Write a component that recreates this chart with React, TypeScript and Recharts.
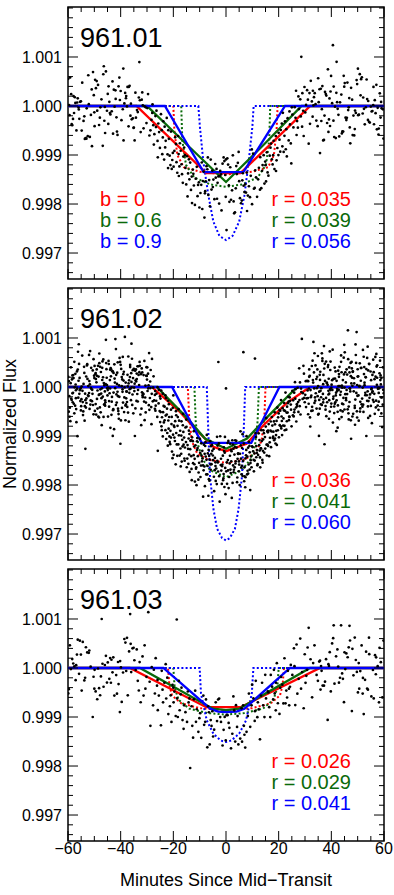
import React from "react";
import { ComposedChart, Line, ReferenceArea, Scatter, XAxis, YAxis } from "recharts";

// x in minutes since mid-transit, y in ppm relative to flux 1.000
const xMajor = [-60, -40, -20, 0, 20, 40, 60];
const xMinor = [
  -60, -55, -50, -45, -40, -35, -30, -25, -20, -15, -10, -5, 0, 5, 10, 15, 20, 25, 30, 35, 40, 45, 50, 55, 60,
];
const yMajor = [-3000, -2000, -1000, 0, 1000];
const yMinor = [
  -3400, -3200, -3000, -2800, -2600, -2400, -2200, -2000, -1800, -1600, -1400, -1200, -1000, -800, -600, -400, -200,
  0, 200, 400, 600, 800, 1000, 1200, 1400, 1600, 1800, 2000,
];
const yDomain = [-3530, 2020];

const bLabels = ["b = 0", "b = 0.6", "b = 0.9"];
const rLabels1 = ["r = 0.035", "r = 0.039", "r = 0.056"];
const rLabels2 = ["r = 0.036", "r = 0.041", "r = 0.060"];
const rLabels3 = ["r = 0.026", "r = 0.029", "r = 0.041"];

// model curves, solid
const red1 = [[-60, 0], [-34, 0], [-7.5, -1370], [5.5, -1370], [32, 0], [60, 0]];
const green1 = [[-60, 0], [-30, 0], [-15, -780], [0, -1550], [14.5, -780], [28.7, 0], [60, 0]];
const blue1 = [[-60, 0], [-23.2, 0], [-8.5, -1350], [6.6, -1350], [22.4, 0], [60, 0]];
const red2 = [[-60, 0], [-28.2, 0], [-17.5, -510], [-11.2, -880], [-4.8, -1220], [0, -1310], [7.8, -1160], [14.2, -780], [23, -330], [31.9, 0], [60, 0]];
const green2 = [[-60, 0], [-26.3, 0], [-15, -620], [-8, -1050], [0, -1260], [8, -1050], [15, -650], [27, 0], [60, 0]];
const blue2 = [[-60, 0], [-20.5, 0], [-9.2, -1140], [9.6, -1140], [20.3, 0], [60, 0]];
const red3 = [[-60, 0], [-36.5, 0], [-7.5, -800], [5.5, -800], [35.7, 0], [60, 0]];
const green3 = [[-60, 0], [-32.7, 0], [-5, -830], [0, -860], [5, -830], [31.9, 0], [60, 0]];
const blue3 = [[-60, 0], [-23.8, 0], [-6, -830], [-3, -890], [0, -900], [4, -890], [7, -830], [24.3, 0], [60, 0]];

// model curves, dotted
const redDot1 = [[-60, 0], [-20, 0], [-19.6, -500], [-18.5, -1000], [-16, -1250], [-10, -1340], [0, -1400], [10, -1340], [16, -1250], [18.2, -1000], [19.2, -500], [19.6, 0], [60, 0]];
const greenDot1 = [[-60, 0], [-17, 0], [-16.6, -700], [-15.2, -1200], [-12, -1460], [-6, -1600], [0, -1650], [6, -1600], [12, -1460], [15.2, -1200], [16.4, -700], [16.8, 0], [60, 0]];
const blueDot1 = [[-60, 0], [-10.5, 0], [-9.9, -430], [-8.6, -1140], [-6.7, -1820], [-4.8, -2360], [-2.5, -2650], [0, -2735], [2.5, -2650], [5, -2360], [7, -1820], [8.6, -1140], [10, -430], [10.5, 0], [60, 0]];
const redDot2 = [[-60, 0], [-14.5, 0], [-14, -600], [-13, -1100], [-11, -1350], [-7, -1480], [0, -1550], [7, -1480], [11, -1350], [13.5, -1100], [14.6, -600], [15, 0], [60, 0]];
const greenDot2 = [[-60, 0], [-12, 0], [-11.5, -700], [-10.5, -1200], [-9, -1460], [-6, -1700], [0, -1840], [6, -1700], [9.5, -1460], [11, -1200], [12, -700], [12.5, 0], [60, 0]];
const blueDot2 = [[-60, 0], [-7.3, 0], [-6.8, -780], [-6.1, -1800], [-4.8, -2480], [-3.4, -2890], [-1.5, -3080], [0, -3130], [1.5, -3080], [3.4, -2890], [4.8, -2480], [6.1, -1800], [6.8, -780], [7.3, 0], [60, 0]];
const redDot3 = [[-60, 0], [-22, 0], [-21.5, -350], [-20.5, -560], [-17, -720], [-10, -820], [0, -860], [10, -820], [17, -720], [20.5, -560], [21.5, -350], [22, 0], [60, 0]];
const greenDot3 = [[-60, 0], [-20, 0], [-19.5, -400], [-18, -650], [-14, -830], [-7, -920], [0, -950], [7, -920], [14, -830], [18, -650], [19.5, -400], [20, 0], [60, 0]];
const blueDot3 = [[-60, 0], [-10, 0], [-9.5, -520], [-7.3, -1070], [-4.8, -1340], [-2, -1480], [0, -1510], [2, -1480], [5, -1340], [7.6, -1070], [9.8, -520], [10.4, 0], [60, 0]];

// photometry, 961.01
const flux1 = [
  [-47.3,137],[-58.1,-263],[-36.6,412],[-52.9,-48],[-41.2,-591],[-55.4,85],[-31.8,277],[-44.7,-366],[-59.6,19],[-38.9,-702],[-49.1,508],[-33.5,-124],[-53.8,-211],[-42.6,333],[-57.2,63],[-35.1,-447],[-46.0,-18],[-50.5,692],[-39.7,-289],[-56.3,156],[-32.4,-533],[-45.2,-97],[-58.8,241],[-37.4,389],[-51.7,-631],[-43.9,-172],[-54.6,476],[-30.9,-6],[-48.2,-388],[-40.3,122],[-59.2,581],[-34.2,-239],[-52.1,37],[-46.8,-812],[-37.9,203],[-55.9,-71],[-42.0,319],[-31.3,-456],[-49.7,534],[-57.7,-143],[-44.3,86],[-35.8,-271],[-53.3,-654],[-40.8,402],[-47.7,-28],[-33.1,173],[-58.4,-392],[-50.9,-819],[-38.3,266],[-43.4,-109],[-46.4,811],[-54.1,-305],[-36.1,48],[-45.6,706],[-56.8,-498],[-32.0,129],[-41.6,-231],[-49.4,363],[-39.2,-66],[-59.9,554],[-34.7,-702],[-51.3,-183],[-44.9,247],[-37.0,-415],[-55.1,96],[-30.5,-27],[-48.6,431],[-42.9,-564],[-57.4,178],[-35.4,-252],[-52.5,-616],[-40.0,306],[-46.6,648],[-33.8,-84],[-58.6,-371],[-38.6,52],[-50.2,221],[-44.1,-143],[-39.0,763],[-54.8,-502],[-31.6,11],[-47.9,-238],[-36.9,389],[-53.0,-667],[-41.9,144],[-56.0,-33],[-34.4,271],[-49.9,-412],[-43.1,502],[-59.4,-187],[-37.6,-9],[-51.0,338],[-45.9,-551],[-32.7,117],[-55.7,-262],[-40.5,579],[-48.9,-96],[-35.0,-439],[-57.9,203],[-42.3,-13],[-32.9,896],[-46.2,-301],[-53.6,-672],[-38.0,158],[-50.0,-129],[-44.6,402],[-30.2,-348],[-56.5,71],[-41.4,-521],[-52.3,627],[-36.3,-197],
  [-21.4,-1013],[-28.3,-283],[-15.6,-1004],[-25.1,-856],[-18.2,-612],[-29.6,244],[-13.3,-1712],[-23.8,-311],[-19.9,-1238],[-27.2,-574],[-16.7,-1391],[-22.5,-244],[-14.1,-1088],[-26.4,-96],[-20.6,-1284],[-29.1,-602],[-17.5,-760],[-24.2,-982],[-12.6,-1297],[-21.9,-493],[-27.9,34],[-15.1,-1601],[-18.8,-1147],[-25.7,-357],[-13.9,-1496],[-23.1,-845],[-16.2,-1032],[-28.7,-497],[-19.3,-639],[-26.0,-712],[-14.6,-1846],[-20.2,-958],[-24.7,-166],[-12.2,-1622],[-17.9,-1428],[-22.9,-711],[-27.6,-391],[-15.9,-847],[-18.5,-1362],[-25.4,-533],[-21.1,-1205],[-13.6,-1155],[-29.9,-43],[-16.9,-1189],[-23.5,-1093],[-19.6,-916],[-26.8,-205],[-14.4,-1376],[-20.9,-521],[-24.0,-642],[-17.2,-913],[-22.2,-986],[-12.9,-1981],[-28.0,-141],[-15.4,-1263],[-19.0,-773],[-25.9,-1047],[-18.0,-981],[-21.7,-669],[-13.0,-1440],[-26.6,-431],[-16.4,-1568],[-23.3,-421],[-14.8,-1025],[-20.4,-1102],[-27.4,-788],[-17.7,-1233],[-24.4,-494],[-12.4,-1384],[-22.0,-1266],
  [0.2,-2531],[-7.4,-1228],[5.7,-1984],[-2.9,-1437],[9.8,-887],[-10.6,-1611],[3.1,-2189],[-5.2,-1318],[7.6,-1766],[-0.9,-1049],[-8.8,-1530],[1.9,-1913],[-3.6,-1284],[10.9,-1671],[-6.1,-2048],[4.5,-1159],[-11.5,-1482],[8.3,-1827],[-1.7,-2131],[6.4,-1372],[-9.4,-1608],[2.6,-1007],[-4.4,-1902],[11.4,-1455],[-7.9,-1738],[0.8,-1196],[-10.1,-2071],[5.0,-1533],[-2.2,-1324],[9.1,-1861],[-5.8,-1093],[3.7,-1679],[-8.2,-2276],[-0.3,-1408],[7.0,-1757],[-11.1,-1241],[1.3,-1956],[-3.2,-1567],[10.3,-973],[-6.7,-1814],[4.1,-1389],[-9.0,-2102],[8.7,-1638],[-1.3,-1176],[6.0,-1930],[-4.8,-1502],[2.3,-1720],[-7.1,-1291],[11.8,-1853],[-10.3,-1557],[0.5,-1067],[-2.6,-1992],[9.4,-1424],[-5.5,-1706],[3.4,-2168],[-8.5,-1338],[7.3,-1599],[-0.6,-1124],[5.3,-1881],[-3.9,-1463],[-11.8,-2019],[1.6,-1250],[10.6,-1689],[-6.4,-1512],[4.8,-938],[-9.7,-1775],[8.0,-2142],[-1.9,-1396],[6.7,-1627],[-4.1,-1183],[2.9,-1948],[-7.7,-1538],[11.1,-1312],[-10.8,-1840],[0.0,-1091],[-5.0,-1655],[9.9,-2003],[-2.4,-1429],[3.9,-1226],[-8.0,-1781],[6.2,-1517],[-0.1,-1853],[-6.9,-1049],[1.1,-1620],[-3.4,-1893],[7.9,-1359],[-9.2,-1153],
  [19.2,-1108],[13.4,-1676],[26.1,-23],[15.8,-1355],[22.7,-883],[28.9,-421],[17.1,-767],[24.6,-764],[12.5,-1261],[20.8,-490],[27.3,-442],[14.9,-1133],[21.9,-938],[29.5,-612],[18.4,-1288],[25.2,-176],[13.0,-1045],[23.4,-249],[16.6,-1013],[28.2,137],[19.9,-1002],[15.2,-1539],[26.8,-592],[21.2,-358],[17.7,-1193],[24.1,-111],[12.9,-1708],[22.2,-608],[29.0,261],[20.3,-687],[14.3,-1004],[25.6,-437],[18.9,-612],[27.7,-63],[16.1,-1421],[23.8,-702],[13.7,-1321],[21.6,-139],[28.6,1003],[19.5,-857],[26.4,-241],[15.5,-946],[24.8,-1172],[17.4,-1088],[22.9,-473],[29.8,388],[14.6,-1582],[20.6,-931],[27.0,-308],[18.1,-709],[25.0,-28],[12.2,-1497],[23.1,-1029],[16.9,-851],[28.4,-212],[21.4,-822],[13.9,-1205],[26.6,311],[19.0,-1326],[24.3,-376],[15.0,-1208],[22.4,-312],[29.3,-97],[17.9,-1003],[27.5,196],[20.0,-547],
  [44.2,-519],[31.7,263],[55.3,-112],[38.4,-347],[49.6,528],[35.2,79],[58.7,-236],[41.1,-633],[33.0,311],[52.4,-58],[46.8,162],[36.9,-702],[57.1,433],[42.7,-181],[30.4,21],[50.8,649],[39.5,-408],[54.0,102],[34.3,-297],[47.5,371],[59.6,-67],[35.7,-961],[43.8,234],[51.9,-153],[32.2,514],[56.2,-372],[40.3,57],[48.1,-593],[37.6,287],[53.1,-26],[45.4,-239],[38.7,748],[58.0,-461],[31.1,129],[49.0,-94],[44.9,394],[36.2,-306],[55.9,16],[41.7,-655],[33.7,261],[40.6,1241],[50.2,-188],[46.1,477],[57.6,-37],[34.8,-412],[42.0,902],[53.6,141],[39.1,-273],[48.7,-601],[30.8,322],[56.8,-146],[43.3,75],[37.2,-693],[51.3,548],[45.9,-241],[33.4,181],[59.1,-48],[47.2,-762],[39.9,613],[54.6,-339],[32.6,94],[50.5,-178],[36.6,407],[44.5,-521],[58.4,258],[41.4,-14],[35.0,566],[52.7,-373],[47.9,129],[31.4,-768],[55.6,-102],[38.1,213],[45.1,468],[53.9,-284],[42.4,-57],[36.0,352],[50.1,762],[57.3,-476],[34.0,38],[48.4,-196],[39.7,296],[43.0,-621],[56.5,118],[31.9,-363],[51.6,587],[46.4,-84],[37.9,243],[59.8,-664],[40.9,397],[49.3,-142],[33.2,12],[54.3,-322],[44.7,616],[38.9,-530],[52.1,173],[46.6,-27],[35.5,342],[57.9,-583],[42.2,77],[49.8,448],[32.9,-217],[55.0,-12],[41.9,269],[47.0,-437],[58.9,83],[37.4,-196],[53.4,541],[44.0,-560],[30.1,-131],[51.1,217],[36.4,-64],[56.0,389],[45.7,-288],[39.3,155],[48.9,-471],[40.8,-300],
];

// photometry, 961.02 (first batch)
const flux2 = [
  [-44.1,142],[-57.3,-381],[-33.6,423],[-50.8,-57],[-39.2,614],[-54.9,-249],[-29.4,36],[-47.6,-517],[-36.0,283],[-59.1,-698],[-42.3,171],[-31.5,-133],[-52.7,466],[-45.8,-312],[-38.1,91],[-56.2,719],[-28.7,-22],[-49.3,-563],[-35.4,344],[-41.0,-188],[-58.5,154],[-32.2,-779],[-46.9,521],[-53.4,-268],[-37.3,12],[-43.6,362],[-55.7,-139],[-30.1,224],[-48.8,-441],[-40.4,593],[-34.8,-83],[-51.5,-358],[-57.9,182],[-44.8,-604],[-29.9,401],[-38.6,-212],[-53.4,-1262],[-46.2,38],[-32.9,302],[-59.7,-503],[-41.8,774],[-36.7,-118],[-50.1,231],[-55.0,-392],[-31.0,533],[-47.1,-28],[-39.9,-683],[-43.2,321],[-57.0,-229],[-34.1,112],[-52.0,654],[-28.4,-409],[-45.3,189],[-37.8,-91],[-49.9,429],[-54.3,-572],[-30.6,29],[-42.7,288],[-58.2,-311],[-35.9,883],[-48.0,-152],[-40.1,-1158],[-33.2,247],[-56.8,-718],[-44.5,469],[-51.1,-41],[-38.4,1021],[-29.1,-465],[-46.6,563],[-53.0,-233],[-41.4,62],[-35.0,371],[-59.4,-607],[-48.4,212],[-31.9,-109],[-43.9,-834],[-36.4,451],[-55.4,-57],[-49.6,262],[-39.5,-428],[-28.1,573],[-45.0,-172],[-52.3,18],[-34.5,334],[-57.6,-538],[-42.0,978],[-37.0,72],[-50.5,-367],[-31.3,243],[-46.0,-91],[-54.6,642],[-40.7,-648],[-33.9,161],[-58.8,-237],[-43.0,-998],[-47.8,411],[-36.2,-29],[-51.8,-447],[-29.6,271],[-44.4,-287],[-55.9,872],[-38.9,131],[-32.5,-561],[-49.1,359],[-41.6,-152],[-57.6,513],[-35.6,-366],[-46.4,81],[-53.7,-687],[-30.3,231],[-39.3,-47],[-48.6,432],[-42.9,-473],[-34.3,138],[-56.4,-1003],[-45.6,962],[-51.3,-18],[-37.6,-306],[-59.9,205],[-40.9,-492],[-32.7,433],[-47.4,-134],[-54.1,62],[-36.9,-708],[-44.0,353],[-28.9,-224],[-50.3,568],[-38.2,-380],[-56.0,128],[-33.4,-61],[-42.5,-861],[-49.5,285],[-31.7,-172],[-45.5,489],[-53.2,-419],[-39.6,17],[-58.0,243],[-35.2,-538],[-47.0,391],[-41.2,-97],[-30.9,-677],[-52.6,164],[-43.4,-299],[-37.1,622],[-55.2,-23],[-48.2,-622],[-34.6,-1000],[-40.0,453],[-57.0,-66],[-45.9,-271],[-29.2,692],[-50.7,-139],[-38.7,-512],[-44.7,-13],[-32.0,378],[-54.4,-308],[-36.5,203],[-59.3,-422],[-42.2,91],[-47.2,-778],[-39.0,262],[-51.6,734],[-33.7,-143],[-56.6,317],[-28.3,-759],[-46.3,-359],[-41.1,504],[-35.8,-5],[-49.0,-243],[-53.9,411],[-30.5,-518],[-43.7,218],[-58.3,-130],[-37.5,-407],[-52.0,-122],[-48.1,684],[-34.0,-284],
  [-19.4,-1102],[-26.7,-381],[-13.2,-1412],[-22.8,-229],[-16.1,-1176],[-27.5,218],[-11.4,-1668],[-24.3,-617],[-18.0,-453],[-14.7,-1461],[-21.1,-895],[-25.5,-58],[-12.6,-1106],[-17.3,-1255],[-23.6,-722],[-10.5,-1891],[-20.2,-424],[-26.1,-611],[-15.4,-826],[-22.1,-1198],[-13.8,-1733],[-18.9,-939],[-24.9,-236],[-11.0,-1285],[-16.8,-1521],[-21.7,-351],[-27.0,-444],[-14.1,-892],[-19.9,-1383],[-23.0,-880],[-12.0,-1576],[-17.8,-688],[-25.9,-1302],[-15.9,-1033],[-20.7,-756],[-10.9,-1043],[-22.5,-562],[-13.5,-1098],[-18.5,-1405],[-26.4,-137],[-16.4,-781],[-24.0,-1009],[-11.8,-1930],[-20.0,-171],[-14.4,-1261],[-21.4,-1121],[-27.8,-293],[-17.0,-992],[-12.3,-1391],[-23.3,-402],[-19.1,-1577],[-15.1,-664],[-25.2,-491],[-10.2,-1548],[-22.3,-939],[-18.3,-613],[-13.0,-1902],[-20.5,-1318],[-16.6,-1076],[-24.6,-71],[-11.6,-1189],[-21.9,-684],[-14.9,-1638],[-19.6,-814],[-26.9,-82],[-17.6,-1399],[-12.9,-1027],[-23.9,-513],[-15.6,-1234],[-20.9,-1032],[-10.7,-1412],[-18.7,-1171],[-25.0,-716],[-13.6,-1269],[-22.7,-1061],[-16.3,-547],[-11.2,-2003],[-19.0,-494],[-24.4,-880],[-14.2,-1051],[-21.6,-612],[-17.2,-1620],[-12.2,-902],[-20.3,-1453],[-26.5,-281],[-15.7,-1505],
  [-3.1,-1540],[6.9,-1923],[-8.4,-1176],[1.7,-1684],[-5.6,-1362],[9.2,-2103],[-0.4,-1018],[4.4,-1466],[-7.1,-1782],[2.8,-1258],[-9.5,-1603],[5.5,-904],[-1.6,-1977],[8.1,-1421],[-4.3,-1698],[0.6,-1143],[-6.7,-2219],[3.6,-1561],[-9.0,-1303],[7.4,-1842],[-2.2,-1005],[9.7,-1637],[-5.0,-1398],[1.0,-2062],[-7.9,-1204],[4.9,-1519],[-0.9,-1777],[6.3,-962],[-3.7,-1663],[-9.8,-1344],[2.2,-2263],[-6.2,-1482],[8.7,-1118],[-1.1,-1902],[5.0,-1583],[-4.7,-1263],[0.1,-1721],[-8.0,-2024],[3.2,-1379],[7.8,-1003],[-2.6,-1819],[9.4,-1495],[-5.3,-1182],[1.4,-1560],[-7.5,-1784],[4.0,-1236],[-0.2,-2186],[6.0,-1608],[-3.4,-1017],[8.4,-1766],[-9.3,-1402],[2.5,-1958],[-6.0,-1106],[5.8,-1644],[-1.9,-1464],[-8.7,-2238],[3.9,-1098],[-4.0,-1537],[7.1,-1824],[-2.9,510],[0.0,-30],[6.6,710],[1.9,-1281],[-5.8,-1688],[9.0,-1332],[-0.6,-2040],[4.6,-1353],[-7.3,-978],[2.9,-1740],[-3.9,-1917],[8.9,-1202],[-1.4,-1583],[5.2,-2001],[-8.9,-1459],[0.9,-1100],[-6.5,-1880],[3.3,-1640],[7.6,-1395],[-4.5,-2125],[-9.9,-1060],[2.0,-1515],[-2.4,-2339],[6.1,-1245],[-5.9,-1580],[1.2,-1836],[-7.7,-1420],[4.2,-1943],[-0.7,-1307],[8.2,-1709],[-3.2,-1195],[5.7,-1463],[-8.2,-1622],[0.4,-1975],[9.9,-1211],[-6.9,-1356],[3.5,-1087],[-1.8,-1706],[7.3,-2046],[-4.9,-1494],[2.6,-1173],
  [16.4,-1412],[11.2,-941],[23.7,-201],[13.9,-1544],[20.6,-483],[28.3,-561],[15.1,-808],[26.4,-44],[10.6,-1720],[18.8,-1153],[22.1,-327],[29.6,271],[12.7,-1083],[17.4,-612],[24.9,-802],[14.5,-1338],[21.3,-981],[27.2,-17],[11.9,-1598],[19.5,-420],[25.7,-601],[16.9,-891],[23.1,-699],[30.4,-410],[13.3,-1254],[20.1,-1027],[28.8,980],[15.8,-1173],[22.6,-113],[11.0,580],[18.2,-703],[26.0,-460],[14.2,-884],[21.8,-641],[27.8,381],[10.3,-1311],[17.8,-1042],[24.3,-288],[12.2,-1387],[19.1,-895],[29.1,-244],[15.5,-1398],[23.4,-522],[16.2,-756],[20.9,-267],[26.7,-704],[13.0,-1640],[18.5,-517],[25.2,-78],[11.5,-1205],[22.9,-870],[28.0,-391],[14.8,-1022],[19.8,-618],[30.8,123],[17.1,-1227],[24.6,-359],[12.4,-945],[21.0,-845],[27.5,-508],[15.3,-635],[23.9,-676],[10.9,-1501],[18.0,-912],[26.2,99],[13.6,-1104],[20.4,-779],[29.9,-311],[16.7,-1036],[22.4,-486],[11.7,-1346],[19.3,-1181],[25.5,-271],[14.0,-1302],[21.5,-433],[28.6,-102],[17.6,-788],[24.1,-611],[12.9,-1437],[20.0,-540],[27.0,-390],[15.9,-924],[23.2,-402],[10.1,-1226],[18.6,-1052],[25.9,-516],[13.4,-880],[21.2,-694],[29.4,432],[16.0,-1204],[22.2,-793],[30.1,-160],
  [45.3,301],[33.8,-212],[52.6,88],[39.1,-648],[57.4,443],[42.2,-37],[31.6,207],[48.9,-383],[36.4,688],[54.7,-152],[44.0,29],[50.9,-501],[34.7,358],[59.3,-818],[41.4,172],[47.2,-91],[32.9,538],[56.1,-303],[38.3,81],[53.5,-168],[43.1,412],[49.8,-622],[35.6,248],[58.2,-28],[40.5,762],[46.6,-399],[31.2,118],[51.7,-237],[37.5,472],[55.4,-738],[42.7,19],[48.1,309],[34.1,-128],[57.9,-466],[44.7,599],[39.7,-62],[53.0,203],[36.0,-352],[49.2,868],[32.2,-209],[46.3,1157],[41.9,-901],[55.9,557],[37.4,-1168],[51.2,388],[43.6,-97],[58.7,237],[35.0,-563],[47.7,512],[40.0,-18],[54.1,-287],[33.2,919],[50.4,-688],[38.8,448],[45.8,-61],[56.8,211],[42.5,-377],[49.6,1121],[36.8,-142],[52.3,617],[31.9,-621],[44.4,141],[58.0,-299],[39.4,726],[47.0,-26],[34.4,-441],[53.8,822],[41.1,-532],[50.0,362],[37.0,-251],[55.1,139],[43.9,-613],[32.6,428],[48.5,-89],[57.1,674],[40.8,-195],[46.0,253],[35.3,-998],[51.5,-353],[38.6,44],[54.4,467],[42.0,-272],[59.7,-58],[45.1,707],[33.5,-30],[49.0,-770],[36.6,583],[52.9,-117],[41.6,318],[56.5,-547],[44.2,-12],[39.9,-403],[47.9,191],[34.9,632],[53.3,-1000],[31.4,-342],[50.7,22],[43.4,-159],[58.5,538],[37.8,-462],[46.8,400],[55.7,-87],[40.3,140],[48.3,-547],[35.9,-78],[52.0,756],[42.9,263],[57.6,-380],[38.1,-596],[45.6,-224],[54.9,316],[32.4,-488],[49.4,492],[41.3,-344],[59.0,183],[36.2,-23],[51.0,-437],[44.9,861],[33.0,141],[47.4,-680],[39.6,347],[56.3,-139],[53.6,593],[42.4,-829],[35.4,-264],[48.7,73],[38.0,519],[58.9,-211],[45.0,-459],[31.0,-71],[50.2,218],[43.7,645],[36.9,-314],[55.3,-28],[40.6,-726],[52.5,407],[47.5,-1056],[33.6,689],[57.3,44],[41.8,-116],[46.9,297],[39.2,-269],[54.0,-631],[34.6,209],[49.9,-181],[37.2,835],[51.9,-12],[44.5,-352],[59.6,401],[42.8,-60],[32.0,-806],[56.7,614],[38.9,-153],[48.0,24],[53.9,-396],[35.7,145],[46.5,-538],
];

// photometry, 961.02 (second batch)
const flux2b = [
  [-52.4,-171],[-38.8,311],[-45.1,-23],[-58.9,402],[-31.1,-298],[-49.2,96],[-42.8,-452],[-35.3,183],[-55.5,-66],[-28.6,347],[-47.3,-229],[-40.2,511],[-53.6,-392],[-33.0,41],[-57.2,268],[-44.2,-128],[-37.2,-521],[-50.6,338],[-29.8,-82],[-46.7,199],[-41.5,-317],[-55.8,471],[-34.9,-12],[-48.5,-603],[-39.4,154],[-59.5,-188],[-32.3,262],[-43.8,387],[-51.4,-273],[-36.6,-44],[-56.9,-451],[-30.0,151],[-45.7,58],[-38.0,-356],[-53.1,214],[-42.1,-24],[-49.8,-488],[-33.3,423],[-58.1,-117],[-47.5,306],[-40.5,-201],[-54.8,9],[-29.3,-371],[-44.6,532],[-36.1,-269],[-51.9,121],[-43.5,-568],[-31.8,298],[-56.5,-34],[-48.3,-162],[-39.8,368],[-34.4,-437],[-59.0,77],[-46.1,-352],[-52.8,441],[-37.7,-96],[-30.7,-214],[-41.7,249],[-55.3,-287],[-44.9,-62],[-50.0,183],[-35.7,576],[-57.8,-342],[-28.8,112],[-47.9,-417],[-40.6,33],[-53.5,-137],[-33.5,-296],[-45.4,364],[-38.5,-9],[-54.2,-498],[-31.4,-147],[-49.0,227],[-42.4,462],[-58.6,-263],[-36.8,137],[-46.5,-611],[-29.5,-29],[-51.2,391],[-39.1,-317],[-55.6,186],[-43.3,-202],[-32.8,511],[-48.8,-71],[-37.4,249],[-57.5,-7],[-41.0,-442],[-52.2,-186],[-34.7,67],[-45.9,-381],[-30.2,404],[-50.9,-289],[-38.2,-678],[-56.3,356],[-44.0,-31],[-47.0,143],[-35.5,-153],[-53.8,287],[-40.8,-552],[-31.6,-208],[-59.7,118],[-42.7,-113],[-49.5,-349],[-36.4,407],[-55.1,-477],[-46.8,-198],[-33.9,273],[-51.7,54],[-39.6,202],[-28.2,-139],[-44.4,-402],[-57.1,51],[-37.9,-231],[-48.1,486],[-41.3,292],[-54.5,-79],[-32.1,-443],[-45.2,41],[-50.3,-557],[-35.9,104],[-58.3,239],[-43.0,317],[-30.4,-318],[-47.7,-48],[-39.3,-98],[-53.0,-326],[-34.2,358],[-56.1,-218],[-41.8,-367],[-49.4,161],
  [-23.3,-681],[-16.5,-1212],[-26.0,-4],[-12.5,-1554],[-20.9,-463],[-14.0,-1377],[-24.8,-512],[-18.4,-792],[-10.8,-1247],[-22.0,-281],[-17.0,-1362],[-27.3,-274],[-13.3,-1087],[-19.6,-1033],[-25.6,-336],[-15.2,-1124],[-21.8,-851],[-11.3,-1637],[-24.0,-136],[-16.9,-701],[-20.1,-972],[-27.7,-11],[-14.6,-1185],[-18.9,-576],[-12.1,-1214],[-22.9,-583],[-15.8,-1459],[-26.8,-483],[-10.4,-1745],[-19.3,-697],[-23.7,-387],[-13.9,-959],[-21.2,-1166],[-17.4,-893],[-25.1,-193],[-11.9,-1466],[-20.6,-611],[-15.0,-812],[-24.5,-802],[-18.1,-1171],[-13.1,-1671],[-22.4,-442],[-16.2,-917],[-27.0,-161],[-11.0,-1108],[-19.8,-789],[-14.3,-1567],[-23.0,-172],[-17.9,-987],[-21.5,-1009],
  [-6.4,-1407],[3.0,-1688],[-9.1,-1517],[7.7,-1283],[-1.5,-1616],[5.3,-1362],[-4.6,-1831],[0.7,-1492],[8.6,-1581],[-7.8,-1126],[2.1,-1309],[-3.0,-1724],[9.5,-1418],[-5.5,-1574],[4.3,-1847],[-0.8,-1229],[6.5,-1508],[-8.5,-1701],[1.5,-1403],[-2.7,-1151],[7.0,-1640],[-6.6,-1283],[3.7,-1517],[-9.7,-1836],[5.6,-1191],[-0.3,-1652],[-4.2,-1448],[8.0,-1784],[-7.0,-1612],[2.4,-1087],[-1.2,-1402],[9.3,-1553],[-5.2,-1303],[4.8,-1719],[-3.5,-1980],[0.3,-1538],[6.8,-1155],[-8.1,-1363],[1.8,-1755],[-2.0,-1592],[7.4,-1457],[-6.3,-1911],[3.4,-1224],[-9.4,-1149],[5.9,-1781],[-0.5,-1341],[-4.0,-1613],[8.4,-1239],[-7.4,-1487],[2.7,-1601],[-1.0,-1864],[9.0,-1685],[-5.7,-1208],[4.6,-1366],[-3.3,-1506],[0.8,-1702],[6.3,-1816],[-8.7,-1601],[1.6,-1158],[-2.5,-1274],
  [14.9,-1257],[21.7,-788],[11.5,-1433],[26.9,-351],[17.9,-1013],[24.2,-213],[12.6,-1188],[29.2,-127],[19.7,-883],[15.7,-901],[23.0,-521],[10.8,-1356],[27.9,-266],[18.6,-761],[13.8,-1489],[25.4,-579],[20.3,-471],[16.6,-1129],[30.3,118],[22.3,-883],[11.4,-1021],[28.5,-33],[17.3,-908],[24.7,-463],[14.1,-1069],[21.1,-602],[26.3,-238],[12.0,-1572],[19.2,-693],[29.7,-222],[16.0,-892],[23.5,-332],[10.5,-1487],[25.9,-116],[18.3,-1087],[13.2,-1253],[22.0,-478],[27.4,-307],[15.4,-1176],[20.8,-803],[11.8,-1287],[24.0,-602],[28.1,93],[17.0,-704],[14.4,-942],[30.6,-231],[19.0,-981],[26.6,-418],[12.8,-1298],[23.8,-297],
  [46.0,-144],[33.4,297],[55.0,-387],[40.1,47],[51.4,389],[36.1,-209],[58.6,142],[43.5,-477],[31.5,-31],[48.2,318],[38.4,-311],[53.8,-88],[44.8,257],[35.2,-546],[57.2,416],[41.7,-172],[50.6,11],[32.7,-404],[47.3,492],[39.0,168],[55.8,-262],[42.6,334],[34.5,-26],[52.2,-509],[45.5,93],[37.3,377],[59.2,-213],[49.5,-121],[41.1,-398],[31.8,227],[54.3,473],[46.9,-306],[36.9,58],[43.0,-655],[57.7,-38],[50.0,212],[33.9,-279],[39.7,519],[52.9,-167],[45.0,-12],[35.8,311],[48.9,-427],[56.4,159],[42.2,-83],[31.2,-556],[47.6,72],[38.0,-223],[53.3,366],[44.1,-341],[58.3,281],[40.4,-61],[34.0,441],[51.0,-302],[46.2,-456],[37.6,124],[55.5,-113],[42.9,208],[32.4,-178],[49.3,653],[39.4,-502],[57.0,-279],[45.8,361],[35.4,-96],[52.6,37],[41.5,-311],[48.6,179],[59.5,-361],[33.1,91],[44.6,-223],[38.7,407],[54.7,-591],[47.1,-36],[36.4,-367],[50.8,483],[43.2,19],[58.0,-121],[31.6,358],[40.7,-241],[53.1,197],[46.6,-661],[34.8,-188],[56.1,302],[42.0,126],[49.1,-256],[37.0,246],[55.2,-47],[44.3,-498],[32.1,-63],[51.8,-402],[39.2,-137],[47.8,379],[58.8,52],[35.6,-443],[43.7,513],[52.4,263],[40.0,-339],[56.9,-417],[45.3,-147],[33.6,-324],[49.8,41],[38.3,88],[54.0,338],[42.4,-507],[47.4,221],[31.1,-226],[59.9,-126],[36.6,531],[50.3,-172],[44.0,-9],[53.6,-283],[41.3,396],[57.4,189],[34.3,163],[48.0,-602],[39.5,-42],[55.6,247],[45.6,-269],[32.9,-481],[51.2,128],[37.8,-389],[57.9,-15],[43.9,301],[49.7,-497],[35.0,17],[54.5,-221],[40.8,164],[46.4,568],[59.0,-539],[38.9,-78],[52.1,-361],
];

// photometry, 961.03
const flux3 = [
  [-47.8,-556],[-58.4,183],[-39.1,-92],[-53.2,423],[-43.7,-301],[-56.9,58],[-36.2,494],[-50.3,-179],[-45.6,248],[-59.7,-433],[-41.0,122],[-54.4,531],[-37.9,-61],[-48.9,-638],[-52.1,309],[-44.3,-221],[-57.6,34],[-35.5,402],[-46.5,-383],[-50.6,-1000],[-40.2,141],[-55.8,-118],[-38.6,592],[-49.5,-479],[-42.8,218],[-58.9,-21],[-36.8,339],[-53.8,-253],[-47.2,1000],[-44.9,113],[-59.3,463],[-40.8,-329],[-51.4,27],[-37.3,-558],[-55.1,273],[-43.1,-88],[-48.2,-411],[-36.4,1100],[-56.3,578],[-41.7,-144],[-52.7,318],[-39.6,-692],[-46.0,61],[-57.1,-248],[-35.1,411],[-49.9,-37],[-44.0,202],[-40.3,-900],[-54.8,-461],[-38.2,519],[-47.5,-171],[-58.0,92],[-42.4,-562],[-51.9,357],[-36.0,-83],[-45.2,-297],[-55.5,557],[-39.9,11],[-50.0,-421],[-43.5,168],[-59.9,-519],[-37.6,616],[-53.5,-199],[-46.9,87],[-41.4,-524],[-56.6,273],[-48.6,-10],
  [-21.3,-781],[-33.1,-459],[-12.8,-1180],[-27.4,-36],[-17.9,-263],[-30.6,-421],[-9.4,-1424],[-24.7,-1170],[-14.2,-702],[-31.7,236],[-19.1,-979],[-26.2,-361],[-11.1,-842],[-34.3,-41],[-22.7,-622],[-16.5,-1062],[-29.5,1140],[-13.6,-2040],[-25.5,-563],[-20.3,-343],[-32.4,-699],[-8.6,-562],[-18.6,-621],[-28.7,-1180],[-15.4,-902],[-23.4,-301],[-10.5,-1302],[-27.0,-520],[-33.9,379],[-19.6,-481],[-12.2,-640],[-24.1,-442],[-16.9,-402],[-30.2,-181],[-21.9,-941],[-14.8,-1100],[-28.2,17],[-9.8,-922],[-25.9,-861],[-18.3,-1000],[-31.3,-562],[-22.3,-198],[-13.1,-781],[-26.7,201],[-17.2,-538],[-34.8,158],[-20.7,-1101],[-11.7,-463],[-23.9,-701],[-15.9,-761],[-29.0,-281],[-18.7,990],[-14.5,-480],[-32.8,121],[-21.0,-558],[-10.1,-1023],[-27.7,-762],[-16.1,-1241],[-24.4,-58],[-12.5,-1422],[-19.9,-701],[-30.9,462],[-22.9,79],[-8.3,-1160],[-26.0,-243],[-17.6,-862],[-13.9,-621],[-33.5,-261],[-20.0,-402],[-11.4,-1098],
  [-3.4,-1082],[6.1,-1503],[-6.8,-781],[1.3,-1221],[-0.5,-998],[4.7,-1559],[-7.6,-641],[2.4,-1342],[-5.2,-883],[7.3,-1623],[-1.9,-1101],[3.8,-758],[-4.5,-1259],[0.6,-962],[5.4,-1441],[-7.1,-1619],[-2.6,-623],[6.8,-1179],[-0.1,-1478],[3.1,-864],[-5.8,-1062],[1.9,-1640],[-3.9,-700],[7.8,-1302],[-6.2,-1560],[0.2,-963],[4.2,-1203],[-1.3,-1581],[5.9,-822],[-7.9,-1099],[2.8,-581],[-4.9,-1398],[-2.2,-1002],[6.5,-761],[-0.9,-1262],[3.5,-1502],[-6.5,-903],[1.0,-1121],[-3.0,-643],[7.0,-1362],[-5.5,-1181],[4.4,-981],
  [19.7,-719],[11.3,-262],[28.2,601],[14.6,-1002],[23.9,-421],[9.2,-1201],[32.1,178],[17.0,-141],[26.3,-757],[12.9,-1455],[21.4,-341],[30.8,-37],[15.9,-479],[24.6,62],[10.4,-621],[18.9,-863],[29.5,-821],[13.7,-301],[22.6,-720],[33.6,462],[16.4,-799],[27.1,-523],[8.7,-522],[20.3,-938],[25.8,401],[11.9,-1003],[31.4,820],[18.2,-37],[23.2,-602],[14.1,-761],[28.9,-82],[9.7,-761],[20.9,-183],[34.4,-141],[16.8,-1002],[26.8,479],[12.4,-845],[22.2,199],[30.2,-302],[15.2,-621],[24.3,-383],[10.9,-1079],[19.3,99],[32.7,-598],[17.5,-382],[27.6,-221],[13.3,-562],[21.8,-722],[29.9,281],[8.3,-980],[23.5,-57],[18.5,-519],[31.0,418],[14.9,-139],[25.2,-142],[11.0,-881],[20.6,-401],[33.1,101],[16.1,-499],[28.5,-421],[12.1,-701],[22.9,-461],[34.9,-262],[19.0,-301],[26.0,38],[9.9,-340],[24.0,-762],[30.5,-160],[17.9,-641],
  [47.1,561],[36.7,-359],[55.8,-41],[41.8,238],[52.3,-941],[38.9,79],[58.3,411],[44.4,-221],[35.4,131],[50.1,-499],[38.6,-1060],[45.7,298],[56.9,-128],[40.3,501],[53.6,-419],[43.7,870],[37.6,-280],[49.3,163],[59.4,-601],[42.3,379],[51.0,-63],[46.2,219],[35.9,-441],[54.3,619],[40.9,870],[48.4,-150],[57.6,37],[44.8,-698],[39.4,323],[52.8,-241],[46.9,860],[36.3,-58],[50.6,-421],[58.8,118],[42.9,-300],[48.0,391],[55.2,-581],[38.0,181],[45.3,-21],[51.5,461],[41.2,-320],[57.0,217],[47.8,-879],[36.1,39],[53.2,333],[43.3,-199],[59.8,559],[39.8,-479],[50.4,101],[44.1,-111],[54.4,282],[37.2,-361],[48.9,621],[56.1,-621],[42.6,29],[46.6,422],[52.0,-203],[40.7,609],[58.1,-701],[35.7,150],[49.7,-81],[45.0,319],[53.9,-442],[39.1,41],[56.6,261],[51.9,-522],
];

const RED = "#ff0000";
const GREEN = "#0a6a0a";
const BLUE = "#0000ff";
const FONT = '"Liberation Sans", Arial, Helvetica, sans-serif';

const PLOT_TOP = 7;
const PLOT_H = 272;
const PLOT_LEFT = 68;
const PLOT_RIGHT = 384;
const WIDTH = 394;

const toPts = (a: number[][]) => a.map(([x, y]) => ({ x, y }));
const fmtX = (v: number) => (v < 0 ? "\u2212" + Math.abs(v) : String(v));
const fmtY = (v: number) => (1 + v / 1e6).toFixed(3);

function XTick(props: any) {
  const { x, payload, showLabel } = props;
  const v = payload.value;
  const major = xMajor.includes(v);
  const len = major ? 10 : 5;
  const bottom = PLOT_TOP + PLOT_H;
  return (
    <g>
      <line x1={x} x2={x} y1={bottom} y2={bottom - len} stroke="#000" strokeWidth={1} />
      <line x1={x} x2={x} y1={PLOT_TOP} y2={PLOT_TOP + len} stroke="#000" strokeWidth={1} />
      {showLabel && major && (
        <text x={x} y={bottom + 13} textAnchor="middle" fontSize={16} fontFamily={FONT} fill="#000">
          {fmtX(v)}
        </text>
      )}
    </g>
  );
}

function YTick(props: any) {
  const { y, payload } = props;
  const v = payload.value;
  const major = yMajor.includes(v);
  const len = major ? 10 : 5;
  return (
    <g>
      <line x1={PLOT_LEFT} x2={PLOT_LEFT + len} y1={y} y2={y} stroke="#000" strokeWidth={1} />
      <line x1={PLOT_RIGHT} x2={PLOT_RIGHT - len} y1={y} y2={y} stroke="#000" strokeWidth={1} />
      {major && (
        <text x={PLOT_LEFT - 6} y={y} dy="0.36em" textAnchor="end" fontSize={16} fontFamily={FONT} fill="#000">
          {fmtY(v)}
        </text>
      )}
    </g>
  );
}

const dotShape = (p: any) => <circle cx={p.cx} cy={p.cy} r={1.35} fill="#000" />;

function Panel({
  name,
  flux,
  solid,
  dotted,
  rLabels,
  showB = false,
  bottomAxis = false,
}: {
  name: string;
  flux: number[][];
  solid: number[][][];
  dotted: number[][][];
  rLabels: string[];
  showB?: boolean;
  bottomAxis?: boolean;
}) {
  const axisH = bottomAxis ? 50 : 2;
  const height = PLOT_TOP + PLOT_H + axisH;
  const colors = [RED, GREEN, BLUE];
  return (
    <div style={{ position: "relative", width: WIDTH, height }}>
      <ComposedChart
        width={WIDTH}
        height={height}
        margin={{ top: PLOT_TOP, right: WIDTH - PLOT_RIGHT, left: 8, bottom: 0 }}
      >
        <XAxis
          type="number"
          dataKey="x"
          domain={[-60, 60]}
          ticks={xMinor}
          interval={0}
          allowDataOverflow
          axisLine={false}
          tickLine={false}
          height={axisH}
          tick={(p: any) => <XTick {...p} showLabel={bottomAxis} />}
        />
        <YAxis
          type="number"
          dataKey="y"
          domain={yDomain}
          ticks={yMinor}
          interval={0}
          allowDataOverflow
          axisLine={false}
          tickLine={false}
          width={PLOT_LEFT - 8}
          tick={(p: any) => <YTick {...p} />}
        />
        <Scatter data={toPts(flux)} fill="#000" shape={dotShape} isAnimationActive={false} />
        {dotted.map((d, i) => (
          <Line
            key={"d" + i}
            data={toPts(d)}
            dataKey="y"
            type="linear"
            stroke={colors[i]}
            strokeWidth={2}
            strokeDasharray="2 2.2"
            dot={false}
            activeDot={false}
            isAnimationActive={false}
          />
        ))}
        {solid.map((d, i) => (
          <Line
            key={"s" + i}
            data={toPts(d)}
            dataKey="y"
            type="linear"
            stroke={colors[i]}
            strokeWidth={2.3}
            dot={false}
            activeDot={false}
            isAnimationActive={false}
          />
        ))}
        <ReferenceArea
          x1={-60}
          x2={60}
          y1={yDomain[0]}
          y2={yDomain[1]}
          fill="none"
          fillOpacity={0}
          stroke="#000"
          strokeWidth={1.5}
        />
      </ComposedChart>
      <svg
        width={WIDTH}
        height={height}
        style={{ position: "absolute", left: 0, top: 0, pointerEvents: "none" }}
        fontFamily={FONT}
      >
        <text x={80} y={PLOT_TOP + 40} fontSize={27} fill="#000">
          {name}
        </text>
        {showB &&
          bLabels.map((t, i) => (
            <text key={t} x={100} y={PLOT_TOP + 199 + i * 21} fontSize={20} fill={colors[i]}>
              {t}
            </text>
          ))}
        {rLabels.map((t, i) => (
          <text key={t} x={351} y={PLOT_TOP + 199 + i * 21} fontSize={20} fill={colors[i]} textAnchor="end">
            {t}
          </text>
        ))}
        {bottomAxis && (
          <text x={226} y={PLOT_TOP + PLOT_H + 45} fontSize={18} fill="#000" textAnchor="middle">
            Minutes Since Mid{"\u2212"}Transit
          </text>
        )}
      </svg>
    </div>
  );
}

export default function App() {
  return (
    <div style={{ position: "relative", width: WIDTH, background: "#fff" }}>
      <style>{"body{margin:0;background:#fff}"}</style>
      <Panel
        name="961.01"
        flux={flux1}
        solid={[red1, green1, blue1]}
        dotted={[redDot1, greenDot1, blueDot1]}
        rLabels={rLabels1}
        showB
      />
      <Panel
        name="961.02"
        flux={[...flux2, ...flux2b]}
        solid={[red2, green2, blue2]}
        dotted={[redDot2, greenDot2, blueDot2]}
        rLabels={rLabels2}
      />
      <Panel
        name="961.03"
        flux={flux3}
        solid={[red3, green3, blue3]}
        dotted={[redDot3, greenDot3, blueDot3]}
        rLabels={rLabels3}
        bottomAxis
      />
      <svg
        width={30}
        height={895}
        style={{ position: "absolute", left: 0, top: 0, pointerEvents: "none" }}
      >
        <text
          x={0}
          y={0}
          transform="translate(16,424) rotate(-90)"
          textAnchor="middle"
          fontSize={18}
          fontFamily={FONT}
          fill="#000"
        >
          Normalized Flux
        </text>
      </svg>
    </div>
  );
}
